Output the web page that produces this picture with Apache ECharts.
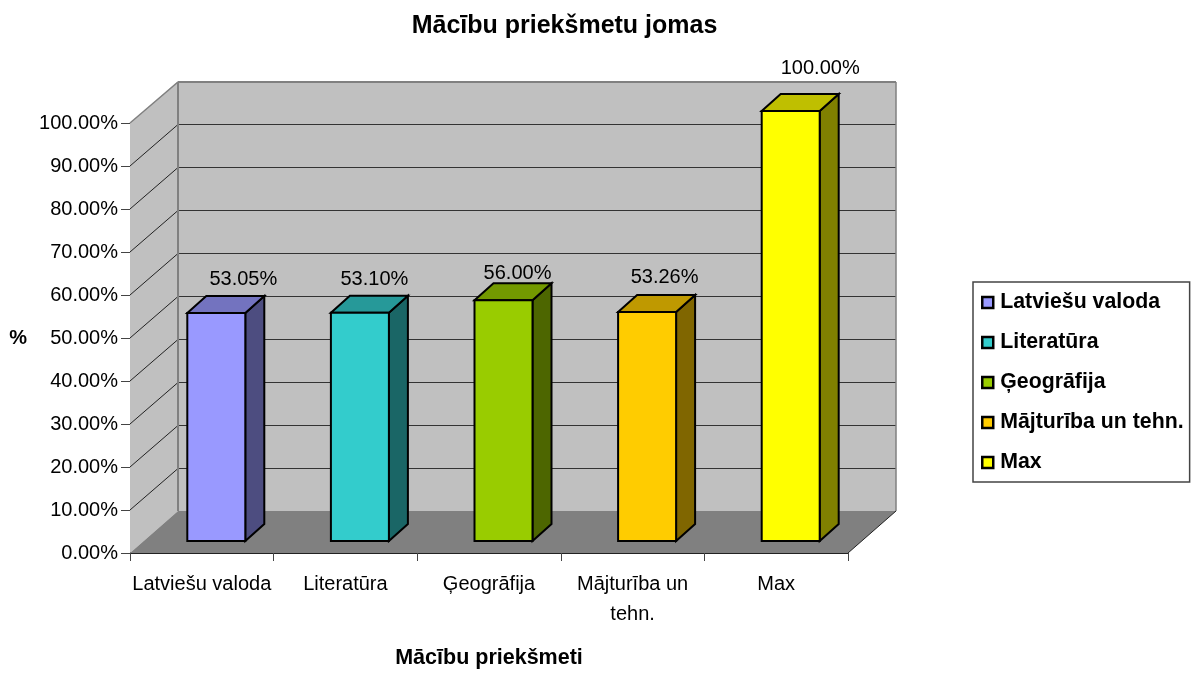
<!DOCTYPE html>
<html><head><meta charset="utf-8">
<style>html,body{margin:0;padding:0;background:#fff}#c{width:1193px;height:673px}</style>
<script src="https://cdn.jsdelivr.net/npm/echarts@6/dist/echarts.min.js"></script>
</head><body><div id="c"></div>
<script>
const chartTitle = 'Mācību priekšmetu jomas';
const xTitle = 'Mācību priekšmeti';
const yTitle = '%';
const categories = ['Latviešu valoda', 'Literatūra', 'Ģeogrāfija', 'Mājturība un tehn.', 'Max'];
const tickLabels = ['Latviešu valoda', 'Literatūra', 'Ģeogrāfija', 'Mājturība un\ntehn.', 'Max'];
const values = [0.5305, 0.5310, 0.5600, 0.5326, 1.0000];
const colors = ['#9999FF', '#33CCCC', '#99CC00', '#FFCC00', '#FFFF00'];
const gridTicks = [0.1, 0.2, 0.3, 0.4, 0.5, 0.6, 0.7, 0.8, 0.9, 1.0];
// data-label placement relative to the bar (hand-placed in the original)
const labelDx = [27, 14.5, 14, 17.5, 29.5];
const labelDy = [-33, -33, -27, -34, -43];

const FONT = '"Liberation Sans", Arial, sans-serif';
const DX = 48, DY = 42;          // chart-box depth
const BAR_W = 58;                // front face width
const BAR_OFF_X = 14, BAR_OFF_Y = 12; // bar placed into depth
const BAR_DX = 19, BAR_DY = 17;  // bar depth

function shade(hex, f) {
  const n = parseInt(hex.slice(1), 16);
  const c = s => Math.round(((n >> s) & 255) * f);
  return 'rgb(' + c(16) + ',' + c(8) + ',' + c(0) + ')';
}
function poly(pts, fill, stroke, lw, z2) {
  return { type: 'polygon', shape: { points: pts }, z2: z2 || 0,
    style: { fill: fill, stroke: stroke || null, lineWidth: lw || 0, lineJoin: 'miter' } };
}
function line(a, b, stroke, lw, z2) {
  return { type: 'line', shape: { x1: a[0], y1: a[1], x2: b[0], y2: b[1] }, z2: z2 || 1,
    style: { stroke: stroke, lineWidth: lw } };
}

function renderBox(params, api) {
  const bw = api.size([1, 0])[0];
  const p0 = api.coord([0, 0]), pTop = api.coord([0, 1]);
  const pl = api.coord([categories.length - 1, 0]);
  const x0 = p0[0] - bw / 2, x1 = pl[0] + bw / 2, y0 = p0[1], yT = pTop[1];
  const kids = [
    poly([[x0 + DX, yT - DY], [x1 + DX, yT - DY], [x1 + DX, y0 - DY], [x0 + DX, y0 - DY]], '#C0C0C0'),
    poly([[x0, yT], [x0 + DX, yT - DY], [x0 + DX, y0 - DY], [x0, y0]], '#C0C0C0'),
    poly([[x0, y0], [x1, y0], [x1 + DX, y0 - DY], [x0 + DX, y0 - DY]], '#808080')
  ];
  gridTicks.forEach(t => {
    const y = api.coord([0, t])[1];
    if (t < 1) {
      const by = Math.round(y - DY) + 0.5;
      kids.push(line([x0, y], [x0 + DX, by], '#222', 1));
      kids.push(line([x0 + DX, by], [x1 + DX, by], '#333', 1));
    }
  });
  kids.push(line([x0, yT], [x0 + DX, yT - DY + 1], '#808080', 1.5));
  kids.push(line([x0 + DX, yT - DY + 1], [x1 + DX, yT - DY + 1], '#808080', 2));
  kids.push(line([x0 + DX, yT - DY + 1], [x0 + DX, y0 - DY], '#808080', 2));
  kids.push(line([x1 + DX, yT - DY + 1], [x1 + DX, y0 - DY], '#808080', 1.5));
  kids.push(line([x1, y0], [x1 + DX, y0 - DY], '#222', 1));
  return { type: 'group', children: kids };
}

function renderBar(params, api) {
  const i = api.value(0), v = api.value(1);
  const base = api.coord([i, 0]), top = api.coord([i, v]);
  const color = colors[i];
  const xl = base[0] + BAR_OFF_X - BAR_W / 2 + 0.5, xr = xl + BAR_W;
  const yb = base[1] - BAR_OFF_Y, yt = top[1] - BAR_OFF_Y;
  const lw = 2;
  return { type: 'group', children: [
    poly([[xr, yt], [xr + BAR_DX, yt - BAR_DY], [xr + BAR_DX, yb - BAR_DY], [xr, yb]], shade(color, 0.5), '#000', lw, 2),
    poly([[xl, yt], [xl + BAR_DX, yt - BAR_DY], [xr + BAR_DX, yt - BAR_DY], [xr, yt]], shade(color, 0.75), '#000', lw, 2),
    poly([[xl, yt], [xr, yt], [xr, yb], [xl, yb]], color, '#000', lw, 3),
    { type: 'text', z2: 4, x: (xl + xr) / 2 + labelDx[i], y: yt + labelDy[i],
      style: { text: (v * 100).toFixed(2) + '%', fill: '#000', font: '20px ' + FONT,
        align: 'center', verticalAlign: 'middle' } }
  ] };
}

const chart = echarts.init(document.getElementById('c'), null, { renderer: 'canvas' });
const series = [{
  type: 'custom', name: '_box', silent: true, clip: false, z: 1, renderItem: renderBox,
  data: [[0, 0]], encode: { x: 0, y: 1 }
}].concat(categories.map((name, i) => ({
  type: 'custom', name: name, clip: false, z: 2 + i, renderItem: renderBar,
  itemStyle: { color: colors[i], borderColor: '#000', borderWidth: 2 },
  data: [[i, values[i]]], encode: { x: 0, y: 1 }
})));

chart.setOption({
  animation: false,
  backgroundColor: '#fff',
  title: { text: chartTitle, left: 564.5, top: 14, textAlign: 'center', padding: 0,
    textStyle: { fontFamily: FONT, fontWeight: 'bold', fontSize: 25, color: '#000' } },
  grid: { left: 130, right: 345, top: 123, bottom: 120, containLabel: false, outerBoundsMode: 'none' },
  xAxis: {
    type: 'category', data: tickLabels, name: xTitle, nameLocation: 'middle', nameGap: 94,
    nameTextStyle: { fontFamily: FONT, fontWeight: 'bold', fontSize: 21.5, color: '#000' },
    axisLine: { lineStyle: { color: '#222', width: 1 } },
    axisTick: { show: true, length: 8, lineStyle: { color: '#444', width: 1 }, alignWithLabel: false },
    axisLabel: { interval: 0, margin: 16, color: '#000', fontFamily: FONT, fontSize: 20,
      lineHeight: 30, align: 'center' },
    splitLine: { show: false }
  },
  yAxis: {
    type: 'value', min: 0, max: 1, interval: 0.1, name: yTitle, nameLocation: 'middle',
    nameRotate: 0, nameGap: 103,
    nameTextStyle: { fontFamily: FONT, fontWeight: 'bold', fontSize: 20, color: '#000', padding: [4, 0, 0, 0] },
    axisLine: { show: true, lineStyle: { color: '#222', width: 1 } },
    axisTick: { show: true, length: 9, lineStyle: { color: '#444', width: 1 } },
    axisLabel: { margin: 12, color: '#000', fontFamily: FONT, fontSize: 20,
      formatter: v => (v * 100).toFixed(2) + '%' },
    splitLine: { show: false }
  },
  legend: {
    orient: 'vertical', left: 973, top: 282, width: 217,
    icon: 'rect', itemWidth: 11, itemHeight: 11, itemGap: 19, selectedMode: false,
    padding: [10, 6, 9, 8], borderColor: '#444', borderWidth: 1.5, backgroundColor: '#fff',
    data: categories.map((n, i) => ({ name: n, itemStyle: { color: colors[i], borderColor: '#000', borderWidth: 2.5 } })),
    textStyle: { fontFamily: FONT, fontWeight: 'bold', fontSize: 21.3, color: '#000', lineHeight: 20, padding: [0, 0, 0, 2] }
  },
  series: series
});
</script></body></html>
